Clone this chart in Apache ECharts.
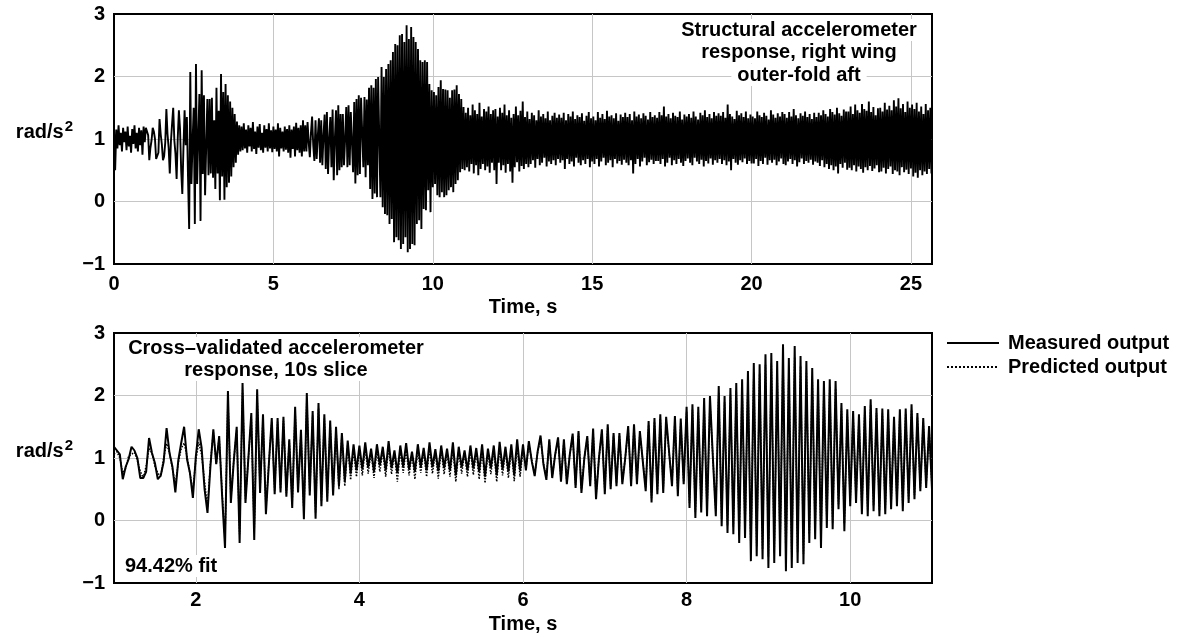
<!DOCTYPE html>
<html>
<head>
<meta charset="utf-8">
<script src="https://cdn.jsdelivr.net/npm/echarts@6/dist/echarts.min.js"></script>
<style>
html,body{margin:0;padding:0;background:#fff;}
#c{width:1177px;height:637px;}
</style>
</head>
<body>
<div id="c"></div>
<script>
// ---------- data ----------
const topXTicks = [0, 5, 10, 15, 20, 25];
const bottomXTicks = [2, 4, 6, 8, 10];
const yTicks = [-1, 0, 1, 2, 3];

// sample timing of the typed value lists
const headStart = 0, headRate = 28;      // 0 .. 1 s (upper panel only)
const mainStart = 1, mainRate = 28;      // 1 .. 11 s (both panels)
const tailStart = 11, tailRate = 28;     // 11 .. 25.64 s (upper panel only)

const headValues = [1.20,0.50,1.15,0.85,1.22,0.90,1.10,0.80,1.18,0.95,1.12,0.82,1.20,0.88,1.05,0.78,1.16,0.92,1.22,0.85,
1.10,0.80,1.18,0.90,1.14,0.75,1.20,0.95];

const measuredValues = [
1.18,1.12,1.06,0.66,0.86,0.98,1.18,1.12,1.00,0.68,0.68,0.78,1.32,1.08,0.92,0.66,0.72,0.94,1.48,1.08,
0.86,0.45,0.96,1.24,1.50,0.98,0.76,0.36,1.02,1.46,1.16,0.50,0.12,0.86,1.46,0.90,1.35,0.40,-0.44,2.07,
0.28,0.95,1.50,-0.36,2.20,0.28,1.00,1.72,-0.31,2.10,0.44,1.70,0.10,0.90,1.64,0.42,1.64,0.45,1.66,0.38,
1.30,0.20,1.82,0.45,1.45,0.02,2.04,0.40,1.75,0.03,1.88,0.23,1.70,0.30,1.60,0.40,1.50,0.55,1.40,0.62,
1.28,0.75,1.22,0.80,1.20,0.82,1.25,0.85,1.15,0.78,1.22,0.88,1.18,0.80,1.27,0.84,1.12,0.76,1.20,0.86,
1.24,0.82,1.10,0.78,1.22,0.86,1.16,0.80,1.25,0.85,1.14,0.79,1.20,0.84,1.15,0.80,1.25,0.72,1.18,0.85,
1.12,0.80,1.20,0.83,1.16,0.78,1.22,0.70,1.15,0.84,1.20,0.72,1.26,0.82,1.18,0.78,1.22,0.72,1.30,0.80,
1.22,0.80,1.27,0.95,0.71,1.10,1.36,0.90,0.65,1.30,0.68,1.05,1.33,0.62,1.30,0.58,1.05,1.39,0.52,1.43,
0.44,1.00,1.35,0.55,1.47,0.34,1.00,1.46,0.42,1.54,0.50,1.40,0.55,1.40,0.58,1.00,1.51,0.55,1.54,0.58,
1.43,0.95,0.47,1.59,0.29,1.64,0.42,1.70,0.44,1.66,1.10,0.55,1.67,0.39,1.63,0.58,1.82,0.20,1.86,0.04,
1.82,0.13,1.96,0.07,1.99,1.00,0.07,2.15,-0.09,1.99,-0.20,2.12,-0.22,2.20,-0.36,2.26,-0.28,2.39,-0.65,2.52,
-0.57,2.50,-0.62,2.66,-0.76,2.68,-0.68,2.55,-0.57,2.82,-0.81,2.60,-0.76,2.79,-0.68,2.63,-0.70,2.55,-0.36,2.44,
-0.30,2.26,-0.44,2.23,-0.12,2.26,-0.14,2.23,0.18,1.88,-0.17,1.78,0.23,1.75,0.28,1.70,0.10,1.83,0.07,1.94,
0.15,1.80,0.07,1.79,0.10,1.78,0.18,1.66,0.23,1.78,0.15,1.79,0.28,1.86,0.34,1.72,0.47,1.64,0.52,1.51,
0.50];

const predictedValues = [
1.06,1.10,1.00,0.76,0.83,1.03,1.06,1.09,0.96,0.79,0.68,0.87,1.15,1.08,0.87,0.76,0.70,1.00,1.23,1.08,
0.83,0.58,0.92,1.15,1.24,1.03,0.75,0.49,0.96,1.25,1.05,0.62,0.22,0.92,1.41,0.91,1.32,0.46,-0.30,1.96,
0.35,0.96,1.45,-0.22,2.08,0.35,1.00,1.65,-0.18,1.99,0.50,1.63,0.19,0.91,1.58,0.48,1.58,0.51,1.59,0.44,
1.27,0.28,1.74,0.51,1.41,0.12,1.94,0.46,1.68,0.13,1.79,0.31,1.63,0.37,1.54,0.46,1.45,0.50,1.36,0.55,
1.22,0.65,1.13,0.70,1.12,0.72,1.15,0.75,1.09,0.68,1.13,0.78,1.11,0.70,1.16,0.74,1.07,0.62,1.12,0.76,
1.14,0.72,1.06,0.66,1.13,0.76,1.10,0.70,1.15,0.75,1.08,0.67,1.12,0.74,1.09,0.70,1.15,0.62,1.11,0.75,
1.07,0.70,1.12,0.73,1.10,0.66,1.13,0.60,1.09,0.74,1.12,0.62,1.16,0.72,1.11,0.68,1.13,0.63,1.18,0.70,
1.13,0.82,1.24,0.96,0.74,1.09,1.32,0.91,0.69,1.27,0.71,1.05,1.30,0.66,1.27,0.62,1.05,1.35,0.57,1.39,
0.50,1.00,1.32,0.60,1.42,0.41,1.00,1.41,0.48,1.49,0.55,1.36,0.60,1.36,0.62,1.00,1.46,0.60,1.49,0.62,
1.39,0.96,0.52,1.53,0.36,1.58,0.48,1.63,0.50,1.59,1.09,0.60,1.60,0.45,1.57,0.62,1.74,0.28,1.77,0.14,
1.74,0.22,1.86,0.16,1.89,1.00,0.16,2.04,0.02,1.89,-0.08,2.01,-0.10,2.08,-0.22,2.13,-0.15,2.25,-0.49,2.37,
-0.41,2.35,-0.46,2.49,-0.58,2.51,-0.51,2.40,-0.41,2.64,-0.63,2.44,-0.58,2.61,-0.51,2.47,-0.53,2.40,-0.22,2.30,
-0.17,2.13,-0.30,2.11,-0.01,2.13,-0.03,2.11,0.26,1.79,-0.05,1.70,0.31,1.68,0.35,1.63,0.19,1.75,0.16,1.85,
0.24,1.72,0.16,1.71,0.19,1.70,0.26,1.59,0.31,1.70,0.24,1.71,0.35,1.77,0.41,1.65,0.52,1.58,0.57,1.46,
0.55];

const tailValues = [
1.42,0.55,1.50,0.48,1.38,0.60,1.55,0.45,1.46,0.58,1.40,0.42,1.58,0.52,1.36,0.60,1.48,0.50,1.44,0.56,1.52,0.46,1.40,0.62,1.46,0.50,1.48,0.28,
1.36,0.62,1.50,0.50,1.42,0.58,1.55,0.46,1.38,0.60,1.46,0.48,1.34,0.30,1.40,0.55,1.52,0.63,1.38,0.48,1.45,0.57,1.60,0.52,1.35,0.60,1.44,0.55,
1.32,0.60,1.42,0.66,1.38,0.54,1.30,0.68,1.46,0.58,1.36,0.62,1.40,0.70,1.33,0.56,1.44,0.64,1.30,0.60,1.37,0.66,1.42,0.58,1.34,0.68,1.39,0.62,
1.34,0.66,1.42,0.52,1.30,0.68,1.40,0.60,1.36,0.64,1.44,0.56,1.32,0.70,1.38,0.62,1.35,0.58,1.41,0.66,1.29,0.60,1.37,0.68,1.43,0.55,1.33,0.64,
1.36,0.60,1.30,0.68,1.43,0.56,1.34,0.64,1.40,0.70,1.32,0.58,1.45,0.62,1.36,0.66,1.38,0.55,1.33,0.68,1.41,0.61,1.29,0.65,1.39,0.59,1.35,0.67,
1.42,0.62,1.35,0.58,1.40,0.66,1.30,0.45,1.44,0.60,1.36,0.68,1.39,0.56,1.33,0.64,1.41,0.70,1.37,0.58,1.31,0.63,1.43,0.67,1.35,0.60,1.38,0.65,
1.34,0.65,1.43,0.60,1.38,0.68,1.52,0.56,1.36,0.62,1.40,0.70,1.33,0.58,1.42,0.66,1.37,0.60,1.35,0.68,1.44,0.62,1.31,0.57,1.39,0.65,1.36,0.69,
1.40,0.62,1.34,0.58,1.44,0.70,1.36,0.64,1.31,0.60,1.42,0.67,1.38,0.56,1.46,0.65,1.35,0.61,1.40,0.69,1.33,0.59,1.43,0.66,1.37,0.62,1.41,0.68,
1.37,0.60,1.43,0.66,1.34,0.58,1.55,0.64,1.40,0.50,1.36,0.68,1.32,0.62,1.45,0.59,1.38,0.66,1.41,0.63,1.35,0.69,1.44,0.60,1.33,0.65,1.39,0.61,
1.36,0.61,1.33,0.68,1.44,0.57,1.38,0.65,1.35,0.60,1.42,0.70,1.37,0.59,1.31,0.66,1.46,0.62,1.39,0.67,1.34,0.58,1.41,0.64,1.36,0.69,1.43,0.60,
1.40,0.58,1.34,0.64,1.43,0.68,1.36,0.60,1.48,0.66,1.38,0.56,1.33,0.63,1.41,0.69,1.37,0.60,1.44,0.65,1.35,0.62,1.40,0.67,1.32,0.59,1.42,0.64,
1.35,0.62,1.42,0.57,1.38,0.66,1.46,0.55,1.40,0.60,1.36,0.52,1.48,0.58,1.43,0.50,1.39,0.56,1.50,0.45,1.41,0.60,1.37,0.54,1.47,0.62,1.44,0.51,
1.44,0.54,1.52,0.50,1.40,0.58,1.55,0.48,1.46,0.56,1.42,0.52,1.56,0.46,1.48,0.55,1.45,0.50,1.60,0.57,1.43,0.49,1.51,0.53,1.38,0.58,1.49,0.47,
1.50,0.48,1.44,0.54,1.58,0.45,1.47,0.52,1.53,0.56,1.46,0.44,1.62,0.50,1.52,0.48,1.65,0.42,1.49,0.55,1.56,0.47,1.43,0.51,1.60,0.44,1.50,0.53,
1.55,0.40,1.48,0.46,1.58,0.38,1.44,0.50,1.52,0.42,1.40,0.48,1.56,0.44,1.46,0.52,1.50,0.45];

// ---------- build series data ----------
const headPts = headValues.map((v, i) => [headStart + i / headRate, v]);
const measPts = measuredValues.map((v, i) => [mainStart + i / mainRate, v]);
const predPts = predictedValues.map((v, i) => [mainStart + i / mainRate, v]);
const tailPts = tailValues.map((v, k) => [tailStart + (k + 1) / tailRate, v]);
const topPts = headPts.concat(measPts, tailPts);

// ---------- styling ----------
const FONT = '"Liberation Sans", Arial, Helvetica, sans-serif';
const txt = { fontFamily: FONT, fontWeight: 'bold', fontSize: 20, color: '#000' };
const gridLine = { show: true, showMinLine: false, showMaxLine: false, lineStyle: { color: '#c6c6c6', width: 1 } };
const minus = v => (v < 0 ? '\u2212' + Math.abs(v) : String(v));

function yAxisFor(gi) {
  return {
    gridIndex: gi, type: 'value', min: yTicks[0], max: yTicks[yTicks.length - 1], interval: 1,
    axisLine: { show: false }, axisTick: { show: false },
    splitLine: gridLine,
    axisLabel: Object.assign({}, txt, { margin: 9, formatter: minus }),
    name: '{a|rad/s}{b|2}', nameLocation: 'middle', nameRotate: 0, nameGap: 41,
    nameTextStyle: {
      padding: [0, 0, 14, 0],
      rich: {
        a: { fontFamily: FONT, fontWeight: 'bold', fontSize: 20, lineHeight: 26, color: '#000' },
        b: { fontFamily: FONT, fontWeight: 'bold', fontSize: 15, lineHeight: 14, color: '#000', verticalAlign: 'top', padding: [0, 0, 0, 1] }
      }
    }
  };
}

function label(text, x, y, align) {
  return {
    type: 'text', x: x, y: y, z: 50,
    style: {
      text: text, font: 'bold 20px ' + FONT, fill: '#000',
      textAlign: align || 'center', textVerticalAlign: 'middle',
      backgroundColor: '#fff', padding: [1, 6, 1, 6]
    }
  };
}

const option = {
  animation: false,
  backgroundColor: '#fff',
  grid: [
    { left: 114, width: 818, top: 14, height: 250, show: true, borderColor: '#000', borderWidth: 2, backgroundColor: 'rgba(0,0,0,0)', z: 0 },
    { left: 114, width: 818, top: 333, height: 250, show: true, borderColor: '#000', borderWidth: 2, backgroundColor: 'rgba(0,0,0,0)', z: 0 }
  ],
  xAxis: [
    {
      gridIndex: 0, type: 'value', min: topXTicks[0], max: 25.66, interval: 5,
      axisLine: { show: false }, axisTick: { show: false },
      splitLine: gridLine,
      axisLabel: Object.assign({}, txt, { margin: 10, showMaxLabel: false }),
      name: 'Time, s', nameLocation: 'middle', nameGap: 33, nameTextStyle: txt
    },
    {
      gridIndex: 1, type: 'value', min: 1, max: 11, splitNumber: 5,
      axisLine: { show: false }, axisTick: { show: false },
      splitLine: gridLine,
      axisLabel: Object.assign({}, txt, { margin: 7, showMinLabel: false, showMaxLabel: false }),
      name: 'Time, s', nameLocation: 'middle', nameGap: 31, nameTextStyle: txt
    }
  ],
  yAxis: [yAxisFor(0), yAxisFor(1)],
  legend: {
    orient: 'vertical', left: 946, top: 333, padding: 0,
    itemWidth: 52, itemHeight: 14, itemGap: 4,
    data: ['Measured output', 'Predicted output'],
    itemStyle: { opacity: 0 },
    textStyle: Object.assign({}, txt, { padding: [0, 0, 0, 4] }),
    selectedMode: false
  },
  graphic: [
    label('Structural accelerometer', 799, 30),
    label('response, right wing', 799, 52.5),
    label('outer-fold aft', 799, 75),
    label('Cross\u2013validated accelerometer', 276, 348),
    label('response, 10s slice', 276, 370),
    label('94.42% fit', 119, 566, 'left')
  ],
  series: [
    {
      name: 'Structural response', type: 'line', xAxisIndex: 0, yAxisIndex: 0,
      data: topPts, symbol: 'none', showSymbol: false, silent: true,
      itemStyle: { color: '#000' },
      lineStyle: { color: '#000', width: 1.9 }, z: 3
    },
    {
      name: 'Measured output', type: 'line', xAxisIndex: 1, yAxisIndex: 1,
      data: measPts, symbol: 'none', showSymbol: false, silent: true,
      itemStyle: { color: '#000' },
      lineStyle: { color: '#000', width: 2 }, z: 3
    },
    {
      name: 'Predicted output', type: 'line', xAxisIndex: 1, yAxisIndex: 1,
      data: predPts, symbol: 'none', showSymbol: false, silent: true,
      itemStyle: { color: '#000' },
      lineStyle: { color: '#000', width: 1.5, type: 'dotted' }, z: 4
    }
  ]
};

const chart = echarts.init(document.getElementById('c'), null, { renderer: 'canvas' });
chart.setOption(option);
</script>
</body>
</html>
